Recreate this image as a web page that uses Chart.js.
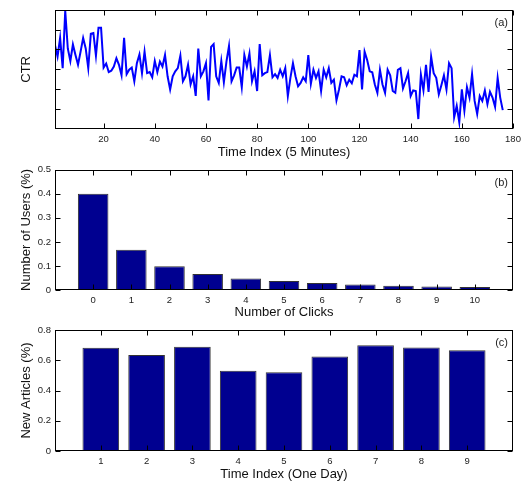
<!DOCTYPE html>
<html>
<head>
<meta charset="utf-8">
<script src="https://cdn.jsdelivr.net/npm/chart.js@4"></script>
<style>
  body { margin: 0; background: #fff; }
  canvas { position: absolute; left: 0; }
</style>
</head>
<body>
<canvas id="ctrChart" width="526" height="160" style="top:0"></canvas>
<canvas id="clickChart" width="526" height="160" style="top:160px"></canvas>
<canvas id="dayChart" width="526" height="162" style="top:320px"></canvas>
<script>
// (a) CTR per 5 minute slot, arbitrary units (axis has no labels)
const ctrValues = [
  4.22, 3.64, 4.58, 3.06, 5.95, 4.05, 3.42, 4.25, 3.72, 3.23,
  3.89, 4.58, 4.05, 3.06, 4.79, 4.83, 3.69, 5.09, 5.09, 3.09,
  3.29, 2.86, 2.93, 3.14, 3.56, 3.23, 2.70, 4.58, 2.76, 2.98,
  3.09, 2.40, 3.31, 3.75, 2.81, 3.89, 2.81, 2.86, 2.60, 3.42,
  2.86, 3.39, 3.14, 3.72, 2.65, 1.99, 2.65, 2.90, 3.06, 3.69,
  2.40, 2.65, 3.23, 2.24, 2.65, 1.66, 4.05, 2.65, 2.90, 3.31,
  1.44, 4.13, 4.27, 2.65, 2.32, 3.42, 2.35, 3.39, 4.17, 2.40,
  2.70, 3.09, 3.09, 2.10, 3.72, 3.14, 3.80, 2.40, 2.90, 1.91,
  4.27, 2.70, 2.81, 2.86, 3.72, 2.60, 2.76, 2.57, 2.98, 2.65,
  3.06, 1.66, 2.57, 3.31, 2.65, 2.15, 2.32, 2.60, 2.40, 3.72,
  2.27, 2.98, 2.57, 2.90, 1.91, 2.98, 2.60, 3.06, 2.32, 2.48,
  1.44, 1.99, 2.65, 2.60, 2.20, 2.48, 2.30, 2.73, 2.65, 3.97,
  1.99, 3.89, 3.47, 2.90, 2.85, 2.24, 1.82, 2.98, 2.24, 1.82,
  2.98, 2.70, 1.91, 1.82, 2.98, 3.06, 2.04, 2.40, 2.81, 1.66,
  1.94, 1.91, 0.50, 2.73, 1.94, 3.23, 1.87, 3.64, 2.81, 2.57,
  1.74, 2.20, 2.70, 1.99, 3.31, 3.06, 0.59, 1.16, 0.34, 1.99,
  0.92, 2.10, 1.58, 2.76, 1.41, 0.75, 1.66, 1.41, 1.94, 1.25,
  1.87, 1.58, 1.11, 2.57, 1.58, 0.95
];
const ctrXTicks = [20, 40, 60, 80, 100, 120, 140, 160, 180];
const ctrYTicks = [1, 2, 3, 4, 5];

// (b) share of users by number of clicks
const clickCounts = [0, 1, 2, 3, 4, 5, 6, 7, 8, 9, 10];
const userShare = [0.40, 0.167, 0.099, 0.066, 0.048, 0.037, 0.029, 0.023, 0.018, 0.015, 0.012];
const clickYTicks = [0, 0.1, 0.2, 0.3, 0.4, 0.5];

// (c) share of new articles per day
const dayIndex = [1, 2, 3, 4, 5, 6, 7, 8, 9];
const newArticleShare = [0.683, 0.635, 0.690, 0.531, 0.520, 0.624, 0.699, 0.685, 0.666];
const dayYTicks = [0, 0.2, 0.4, 0.6, 0.8];

const FONT = "'Liberation Sans', Arial, Helvetica, sans-serif";
const BAR_COLOR = "#000090";

// box round the plot, inward ticks on all four sides, panel tag
const frame = {
  id: "frame",
  afterDatasetsDraw(chart, args, opts) {
    const { ctx, chartArea: a, scales: { x, y } } = chart;
    const L = Math.round(a.left) + 0.5, R = Math.round(a.right) - 0.5;
    const T = Math.round(a.top) + 0.5, B = Math.round(a.bottom) - 0.5;
    ctx.save();
    ctx.strokeStyle = "#000";
    ctx.lineWidth = 1;
    ctx.beginPath();
    x.ticks.forEach(t => {
      const px = Math.round(x.getPixelForValue(t.value)) + 0.5;
      ctx.moveTo(px, B); ctx.lineTo(px, B - 5);
      ctx.moveTo(px, T); ctx.lineTo(px, T + 5);
    });
    y.ticks.forEach(t => {
      const py = Math.round(y.getPixelForValue(t.value)) + 0.5;
      ctx.moveTo(L, py); ctx.lineTo(L + 5, py);
      ctx.moveTo(R, py); ctx.lineTo(R - 5, py);
    });
    ctx.stroke();
    ctx.strokeRect(L, T, R - L, B - T);
    ctx.fillStyle = "#222";
    ctx.font = "11px " + FONT;
    ctx.textAlign = "right";
    ctx.textBaseline = "middle";
    ctx.fillText(opts.tag, a.right - 5, a.top + 13);
    ctx.restore();
  }
};

function xAxis(min, max, ticks, title, height) {
  return {
    type: "linear", min, max, offset: false,
    grid: { display: false, drawTicks: false }, border: { display: false },
    afterBuildTicks: s => { s.ticks = ticks.map(v => ({ value: v })); },
    afterFit: s => { s.height = height; },
    ticks: { color: "#222", padding: 5, font: { family: FONT, size: 9.5 }, maxRotation: 0 },
    title: { display: true, text: title, color: "#111", padding: 0, font: { family: FONT, size: 13 } }
  };
}

function yAxis(min, max, ticks, title, showLabels) {
  return {
    min, max,
    grid: { display: false, drawTicks: false }, border: { display: false },
    afterBuildTicks: s => { s.ticks = ticks.map(v => ({ value: v })); },
    afterFit: s => { s.width = 55; },
    ticks: {
      color: "#222", padding: 4, font: { family: FONT, size: 9.5 },
      callback: v => showLabels ? String(v) : ""
    },
    title: { display: true, text: title, color: "#111", padding: { top: 19, bottom: 0 }, font: { family: FONT, size: 13 } }
  };
}

function baseOptions(padTop, tag) {
  return {
    responsive: false,
    animation: false,
    layout: { padding: { top: padTop, right: 13, left: 0, bottom: 0 } },
    plugins: { legend: { display: false }, tooltip: { enabled: false }, frame: { tag } }
  };
}

new Chart(document.getElementById("ctrChart"), {
  type: "line",
  data: {
    datasets: [{
      data: ctrValues.map((v, i) => ({ x: i + 1, y: v })),
      borderColor: "#0000ff",
      borderWidth: 2,
      pointRadius: 0,
      tension: 0
    }]
  },
  options: Object.assign(baseOptions(7, "(a)"), {
    scales: {
      x: xAxis(1, 180, ctrXTicks, "Time Index (5 Minutes)", 31),
      y: yAxis(0, 6, ctrYTicks, "CTR", false)
    }
  }),
  plugins: [frame]
});

new Chart(document.getElementById("clickChart"), {
  type: "bar",
  data: {
    datasets: [{
      data: clickCounts.map((c, i) => ({ x: c, y: userShare[i] })),
      backgroundColor: BAR_COLOR,
      borderColor: "#333",
      borderWidth: 1,
      barPercentage: 0.8,
      categoryPercentage: 1.0
    }]
  },
  options: Object.assign(baseOptions(8, "(b)"), {
    scales: {
      x: xAxis(-1, 11, clickCounts, "Number of Clicks", 30),
      y: yAxis(0, 0.5, clickYTicks, "Number of Users (%)", true)
    }
  }),
  plugins: [frame]
});

new Chart(document.getElementById("dayChart"), {
  type: "bar",
  data: {
    datasets: [{
      data: dayIndex.map((d, i) => ({ x: d, y: newArticleShare[i] })),
      backgroundColor: BAR_COLOR,
      borderColor: "#333",
      borderWidth: 1,
      barPercentage: 0.8,
      categoryPercentage: 1.0
    }]
  },
  options: Object.assign(baseOptions(10, "(c)"), {
    scales: {
      x: xAxis(0, 10, dayIndex, "Time Index (One Day)", 31),
      y: yAxis(0, 0.8, dayYTicks, "New Articles (%)", true)
    }
  }),
  plugins: [frame]
});
</script>
</body>
</html>
